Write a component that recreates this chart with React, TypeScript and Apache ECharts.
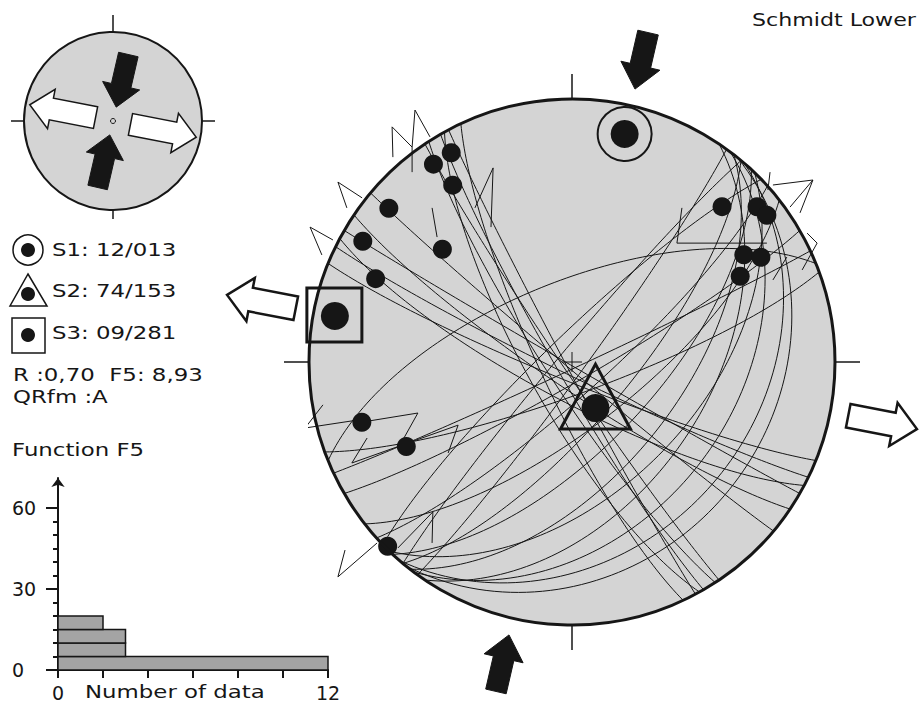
import React, { useEffect, useRef } from "react";
import * as echarts from "echarts";

// Fault planes: [dip direction (deg), dip (deg)]
const FAULT_PLANES: number[][] = [
  [240, 85], [242, 88], [237, 82], [245, 80], [236, 87], [241, 76],
  [206, 86], [210, 89], [220, 88], [202, 84], [214, 82], [208, 78],
  [129, 24], [131, 30], [127, 38], [124, 47], [128, 56], [133, 64], [130, 72], [138, 80], [126, 86],
  [316, 82], [310, 86], [142, 70], [134, 50],
  [338, 65], [155, 88], [150, 84], [160, 80],
];

// Poles / lineations: [trend (deg), plunge (deg)]
const POLES: number[][] = [
  [330, 9], [325, 9], [326, 20], [310, 10], [300, 9], [311, 35], [293, 20],
  [44, 19], [50, 9], [53, 8], [58, 24], [61, 19], [63, 29],
  [254, 18], [243, 30], [225, 1],
];

// Principal stress axes
const STRESS_NAMES = ["S1", "S2", "S3"];
const STRESS_PLUNGE = [12, 74, 9];
const STRESS_TREND = [13, 153, 281];

// Slip markers, in projected stereonet units
const SLIP_MARKS: number[][][] = [
  [[-0.681, 0.779], [-0.684, 0.894], [-0.608, 0.817], [-0.597, 0.958], [-0.54, 0.856]],
  [[-0.608, 0.817], [-0.608, 0.722]],
  [[-0.369, 0.586], [-0.3, 0.738], [-0.308, 0.513]],
  [[-0.798, 0.624], [-0.89, 0.684], [-0.856, 0.586]],
  [[-0.909, 0.464], [-0.996, 0.513], [-0.951, 0.407]],
  [[-0.532, 0.586], [-0.513, 0.475]],
  [[0.764, 0.673], [0.916, 0.692], [0.829, 0.589]],
  [[0.916, 0.692], [0.867, 0.567]],
  [[0.418, 0.586], [0.399, 0.452], [0.741, 0.452]],
  [[0.894, 0.49], [0.932, 0.452], [0.875, 0.35]],
  [[0.764, 0.312], [0.817, 0.399]],
  [[0.753, 0.722], [0.745, 0.654]],
  [[-0.795, -0.228], [-0.586, -0.194], [-0.654, -0.316]],
  [[-0.837, -0.384], [-0.433, -0.24], [-0.471, -0.346]],
  [[-0.837, -0.384], [-0.779, -0.289]],
  [[-0.662, -0.707], [-0.529, -0.57], [-0.532, -0.688]],
  [[-0.741, -0.688], [-0.89, -0.817], [-0.863, -0.715]],
  [[-0.947, -0.163], [-1.015, -0.251], [-0.817, -0.221]],
];

// Function F5 histogram
const F5_BIN_FROM = [0, 5, 10, 15];
const F5_BIN_TO = [5, 10, 15, 20];
const F5_COUNT = [12, 3, 3, 2];
const F5_LABELS = [0, 30, 60];
const F5_TICKS = [0, 5, 10, 15, 20, 25, 30, 35, 40, 45, 50, 55, 60];
const COUNT_LABELS = [0, 12];

const STRESS_RATIO = "0,70";
const F5_VALUE = "8,93";
const QUALITY = "A";

const DEG = Math.PI / 180;
const INK = "#161616";
const FONT = "DejaVu Sans";

function projectLine(trend: number, plunge: number): number[] {
  const r = Math.SQRT2 * Math.sin(((90 - plunge) * DEG) / 2);
  return [r * Math.sin(trend * DEG), r * Math.cos(trend * DEG)];
}

function greatCircle(dd: number, dip: number): number[][] {
  const d = dd * DEG;
  const dp = dip * DEG;
  const s = [Math.sin(d - Math.PI / 2), Math.cos(d - Math.PI / 2), 0];
  const dv = [Math.sin(d) * Math.cos(dp), Math.cos(d) * Math.cos(dp), -Math.sin(dp)];
  const pts: number[][] = [];
  for (let i = 0; i <= 180; i += 2) {
    const a = i * DEG;
    const v = [0, 1, 2].map((k) => Math.cos(a) * s[k] + Math.sin(a) * dv[k]);
    const pl = Math.asin(Math.max(-1, Math.min(1, -v[2])));
    const tr = Math.atan2(v[0], v[1]);
    const r = Math.SQRT2 * Math.sin((Math.PI / 2 - pl) / 2);
    pts.push([r * Math.sin(tr), r * Math.cos(tr)]);
  }
  return pts;
}

function arrowPoints(c: number[], trend: number, startPx: number, L: number, bw: number, hw: number, hl: number, inward: boolean) {
  const t = trend * DEG;
  const ox = Math.sin(t);
  const oy = -Math.cos(t);
  let tip: number[];
  let ux: number;
  let uy: number;
  if (inward) {
    tip = [c[0] + ox * startPx, c[1] + oy * startPx];
    ux = -ox;
    uy = -oy;
  } else {
    tip = [c[0] + ox * (startPx + L), c[1] + oy * (startPx + L)];
    ux = ox;
    uy = oy;
  }
  const vx = -uy;
  const vy = ux;
  const base = [tip[0] - ux * L, tip[1] - uy * L];
  const neck = [tip[0] - ux * hl, tip[1] - uy * hl];
  return [
    [base[0] + (vx * bw) / 2, base[1] + (vy * bw) / 2],
    [neck[0] + (vx * bw) / 2, neck[1] + (vy * bw) / 2],
    [neck[0] + (vx * hw) / 2, neck[1] + (vy * hw) / 2],
    tip,
    [neck[0] - (vx * hw) / 2, neck[1] - (vy * hw) / 2],
    [neck[0] - (vx * bw) / 2, neck[1] - (vy * bw) / 2],
    [base[0] - (vx * bw) / 2, base[1] - (vy * bw) / 2],
  ];
}

function pad(n: number, w: number) {
  let s = String(n);
  while (s.length < w) s = "0" + s;
  return s;
}

function txt(text: string, x: number, y: number, size = 18, sx = 1.27) {
  return {
    type: "text",
    x,
    y,
    scaleX: sx,
    style: { text, x: 0, y: 0, fontSize: size, fontFamily: FONT, fill: "#161616", verticalAlign: "middle", align: "left" },
    z: 10,
  };
}

export default function App() {
  const ref = useRef<HTMLDivElement>(null);
  useEffect(() => {
    if (!ref.current) return;
    const chart = echarts.init(ref.current, undefined, { renderer: "svg" });

    const arrowData = [
      [STRESS_TREND[0], 0],
      [STRESS_TREND[0] + 180, 0],
      [STRESS_TREND[2], 1],
      [STRESS_TREND[2] + 180, 1],
    ];

    const hiddenAxis = (gridIndex: number) => ({ gridIndex, type: "value", min: -1, max: 1, show: false });

    const legendY = [250, 291, 333];
    const graphic: any[] = [];
    STRESS_NAMES.forEach((n, i) => {
      graphic.push(txt(`${n}: ${pad(STRESS_PLUNGE[i], 2)}/${pad(STRESS_TREND[i], 3)}`, 52, legendY[i]));
    });
    graphic.push(txt(`R :${STRESS_RATIO}  F5: ${F5_VALUE}`, 13, 375));
    graphic.push(txt(`QRfm :${QUALITY}`, 13, 397));
    graphic.push(txt("Function F5", 12, 450));
    graphic.push(txt("Number of data", 85, 692));
    graphic.push(txt("Schmidt Lower", 752, 20, 18, 1.23));
    // legend symbols
    graphic.push({ type: "circle", shape: { cx: 28, cy: 250, r: 15 }, style: { fill: "#fff", stroke: INK, lineWidth: 1.5 } });
    graphic.push({ type: "circle", shape: { cx: 28, cy: 250, r: 7 }, style: { fill: INK } });
    graphic.push({ type: "polygon", shape: { points: [[28, 274], [47, 306], [10, 306]] }, style: { fill: "#fff", stroke: INK, lineWidth: 1.5 } });
    graphic.push({ type: "circle", shape: { cx: 28, cy: 294, r: 7 }, style: { fill: INK } });
    graphic.push({ type: "rect", shape: { x: 12, y: 318, width: 33, height: 35 }, style: { fill: "#fff", stroke: INK, lineWidth: 1.5 } });
    graphic.push({ type: "circle", shape: { cx: 28, cy: 335, r: 7 }, style: { fill: INK } });

    const option: any = {
      animation: false,
      backgroundColor: "#ffffff",
      grid: [
        { left: 309, top: 99, width: 526, height: 526 },
        { left: 24, top: 32, width: 178, height: 178 },
        { left: 58, top: 478, width: 270, height: 192 },
      ],
      xAxis: [
        hiddenAxis(0),
        hiddenAxis(1),
        {
          gridIndex: 2,
          type: "value",
          min: 0,
          max: 12,
          interval: 2,
          axisLine: { show: true, lineStyle: { color: INK, width: 2 } },
          axisTick: { show: true, length: 8, lineStyle: { color: INK, width: 2 } },
          splitLine: { show: false },
          axisLabel: {
            customValues: COUNT_LABELS,
            formatter: (v: number) => (COUNT_LABELS.indexOf(v) >= 0 ? String(v) : ""),
            fontSize: 19,
            fontFamily: FONT,
            color: "#161616",
            margin: 13,
          },
        },
      ],
      yAxis: [
        hiddenAxis(0),
        hiddenAxis(1),
        {
          gridIndex: 2,
          type: "value",
          min: 0,
          max: 71,
          interval: 5,
          axisLine: { show: true, symbol: ["none", "arrow"], symbolSize: [10, 9], lineStyle: { color: INK, width: 2 } },
          axisTick: { show: true, customValues: F5_TICKS, length: 5, lineStyle: { color: INK, width: 2 } },
          splitLine: { show: false },
          axisLabel: {
            customValues: F5_LABELS,
            formatter: (v: number) => (F5_LABELS.indexOf(v) >= 0 ? String(v) : ""),
            fontSize: 19,
            fontFamily: FONT,
            color: "#161616",
            align: "left",
            margin: 46,
          },
        },
        {
          gridIndex: 2,
          type: "value",
          min: 0,
          max: 71,
          position: "left",
          axisLine: { show: false },
          axisTick: { show: true, customValues: F5_LABELS, length: 12, lineStyle: { color: INK, width: 2 } },
          axisLabel: { show: false },
          splitLine: { show: false },
        },
      ],
      graphic,
      series: [
        {
          type: "custom",
          name: "frame",
          xAxisIndex: 0,
          yAxisIndex: 0,
          z: 1,
          silent: true,
          data: [[0, 0]],
          renderItem: (_p: any, api: any) => {
            const c = api.coord([0, 0]);
            const R = api.coord([1, 0])[0] - c[0];
            const t = 25;
            return {
              type: "group",
              children: [
                { type: "circle", shape: { cx: c[0], cy: c[1], r: R }, style: { fill: "#d4d4d4" } },
                { type: "line", shape: { x1: c[0], y1: c[1] - R - t, x2: c[0], y2: c[1] - R }, style: { stroke: INK, lineWidth: 1.5 } },
                { type: "line", shape: { x1: c[0], y1: c[1] + R, x2: c[0], y2: c[1] + R + t }, style: { stroke: INK, lineWidth: 1.5 } },
                { type: "line", shape: { x1: c[0] - R - t, y1: c[1], x2: c[0] - R, y2: c[1] }, style: { stroke: INK, lineWidth: 1.5 } },
                { type: "line", shape: { x1: c[0] + R, y1: c[1], x2: c[0] + R + t, y2: c[1] }, style: { stroke: INK, lineWidth: 1.5 } },
                { type: "line", shape: { x1: c[0] - 10, y1: c[1], x2: c[0] + 10, y2: c[1] }, style: { stroke: INK, lineWidth: 1 } },
                { type: "line", shape: { x1: c[0], y1: c[1] - 10, x2: c[0], y2: c[1] + 10 }, style: { stroke: INK, lineWidth: 1 } },
              ],
            };
          },
        },
        {
          type: "custom",
          name: "fault planes",
          xAxisIndex: 0,
          yAxisIndex: 0,
          z: 2,
          silent: true,
          data: FAULT_PLANES,
          renderItem: (_p: any, api: any) => {
            const pts = greatCircle(api.value(0), api.value(1)).map((q) => api.coord(q));
            return { type: "polyline", shape: { points: pts }, style: { stroke: INK, lineWidth: 1, fill: "none" } };
          },
        },
        {
          type: "lines",
          name: "slip",
          coordinateSystem: "cartesian2d",
          xAxisIndex: 0,
          yAxisIndex: 0,
          polyline: true,
          z: 3,
          silent: true,
          data: SLIP_MARKS.map((c) => ({ coords: c })),
          lineStyle: { color: INK, width: 1, opacity: 1 },
        },
        {
          type: "scatter",
          name: "poles",
          xAxisIndex: 0,
          yAxisIndex: 0,
          z: 4,
          silent: true,
          symbol: "circle",
          symbolSize: 19,
          itemStyle: { color: INK, opacity: 1 },
          data: POLES.map(([t, p]) => projectLine(t, p)),
        },
        {
          type: "custom",
          name: "stress axes",
          xAxisIndex: 0,
          yAxisIndex: 0,
          z: 5,
          silent: true,
          data: STRESS_TREND.map((t, i) => [t, STRESS_PLUNGE[i]]),
          renderItem: (params: any, api: any) => {
            const p = api.coord(projectLine(api.value(0), api.value(1)));
            const i = params.dataIndex;
            const children: any[] = [{ type: "circle", shape: { cx: p[0], cy: p[1], r: 14 }, style: { fill: INK } }];
            if (i === 0) children.push({ type: "circle", shape: { cx: p[0], cy: p[1], r: 27 }, style: { fill: "none", stroke: INK, lineWidth: 2 } });
            if (i === 1)
              children.push({
                type: "polygon",
                shape: { points: [[p[0], p[1] - 44], [p[0] + 35, p[1] + 21], [p[0] - 35, p[1] + 21]] },
                style: { fill: "none", stroke: INK, lineWidth: 3 },
              });
            if (i === 2)
              children.push({ type: "rect", shape: { x: p[0] - 28, y: p[1] - 28, width: 55, height: 54 }, style: { fill: "none", stroke: INK, lineWidth: 3 } });
            return { type: "group", children };
          },
        },
        {
          type: "custom",
          name: "frame outline",
          xAxisIndex: 0,
          yAxisIndex: 0,
          z: 6,
          silent: true,
          data: [[0, 0]],
          renderItem: (_p: any, api: any) => {
            const c = api.coord([0, 0]);
            const R = api.coord([1, 0])[0] - c[0];
            return { type: "circle", shape: { cx: c[0], cy: c[1], r: R }, style: { fill: "none", stroke: INK, lineWidth: 3 } };
          },
        },
        {
          type: "custom",
          name: "stress arrows",
          xAxisIndex: 0,
          yAxisIndex: 0,
          z: 6,
          silent: true,
          data: arrowData,
          renderItem: (_p: any, api: any) => {
            const c = api.coord([0, 0]);
            const R = api.coord([1, 0])[0] - c[0];
            const white = api.value(1) === 1;
            const pts = white
              ? arrowPoints(c, api.value(0), R * 1.07, 70, 24, 44, 24, false)
              : arrowPoints(c, api.value(0), R * 1.065, 58, 21, 40, 24, true);
            return {
              type: "polygon",
              shape: { points: pts },
              style: white ? { fill: "#fff", stroke: INK, lineWidth: 2.5, lineJoin: "miter" } : { fill: INK, stroke: INK, lineWidth: 1 },
            };
          },
        },
        {
          type: "custom",
          name: "inset",
          xAxisIndex: 1,
          yAxisIndex: 1,
          z: 1,
          silent: true,
          data: [[0, 0]],
          renderItem: (_p: any, api: any) => {
            const c = api.coord([0, 0]);
            const R = api.coord([1, 0])[0] - c[0];
            const t = 13;
            return {
              type: "group",
              children: [
                { type: "circle", shape: { cx: c[0], cy: c[1], r: R }, style: { fill: "#d4d4d4", stroke: INK, lineWidth: 2 } },
                { type: "line", shape: { x1: c[0], y1: c[1] - R - t - 4, x2: c[0], y2: c[1] - R }, style: { stroke: INK, lineWidth: 1.5 } },
                { type: "line", shape: { x1: c[0], y1: c[1] + R, x2: c[0], y2: c[1] + R + t - 4 }, style: { stroke: INK, lineWidth: 1.5 } },
                { type: "line", shape: { x1: c[0] - R - t, y1: c[1], x2: c[0] - R, y2: c[1] }, style: { stroke: INK, lineWidth: 1.5 } },
                { type: "line", shape: { x1: c[0] + R, y1: c[1], x2: c[0] + R + t, y2: c[1] }, style: { stroke: INK, lineWidth: 1.5 } },
                { type: "circle", shape: { cx: c[0], cy: c[1], r: 2.5 }, style: { fill: "none", stroke: INK, lineWidth: 1 } },
              ],
            };
          },
        },
        {
          type: "custom",
          name: "inset arrows",
          xAxisIndex: 1,
          yAxisIndex: 1,
          z: 2,
          silent: true,
          data: arrowData,
          renderItem: (_p: any, api: any) => {
            const c = api.coord([0, 0]);
            const R = api.coord([1, 0])[0] - c[0];
            const white = api.value(1) === 1;
            const pts = white
              ? arrowPoints(c, api.value(0), R * 0.2, 67, 22, 40, 22, false)
              : arrowPoints(c, api.value(0), R * 0.16, 54, 20, 38, 22, true);
            return {
              type: "polygon",
              shape: { points: pts },
              style: white ? { fill: "#fff", stroke: INK, lineWidth: 1.5 } : { fill: INK, stroke: INK, lineWidth: 1 },
            };
          },
        },
        {
          type: "custom",
          name: "F5 histogram",
          xAxisIndex: 2,
          yAxisIndex: 2,
          z: 3,
          silent: true,
          data: F5_COUNT.map((n, i) => [n, F5_BIN_FROM[i], F5_BIN_TO[i]]),
          renderItem: (_p: any, api: any) => {
            const a = api.coord([0, api.value(2)]);
            const b = api.coord([api.value(0), api.value(1)]);
            return {
              type: "rect",
              shape: { x: a[0], y: a[1], width: b[0] - a[0], height: b[1] - a[1] },
              style: { fill: "#a4a4a4", stroke: INK, lineWidth: 1.5 },
            };
          },
        },
      ],
    };
    chart.setOption(option);
    return () => chart.dispose();
  }, []);
  return <div ref={ref} style={{ position: "fixed", left: 0, top: 0, width: 919, height: 715, background: "#fff" }} />;
}
